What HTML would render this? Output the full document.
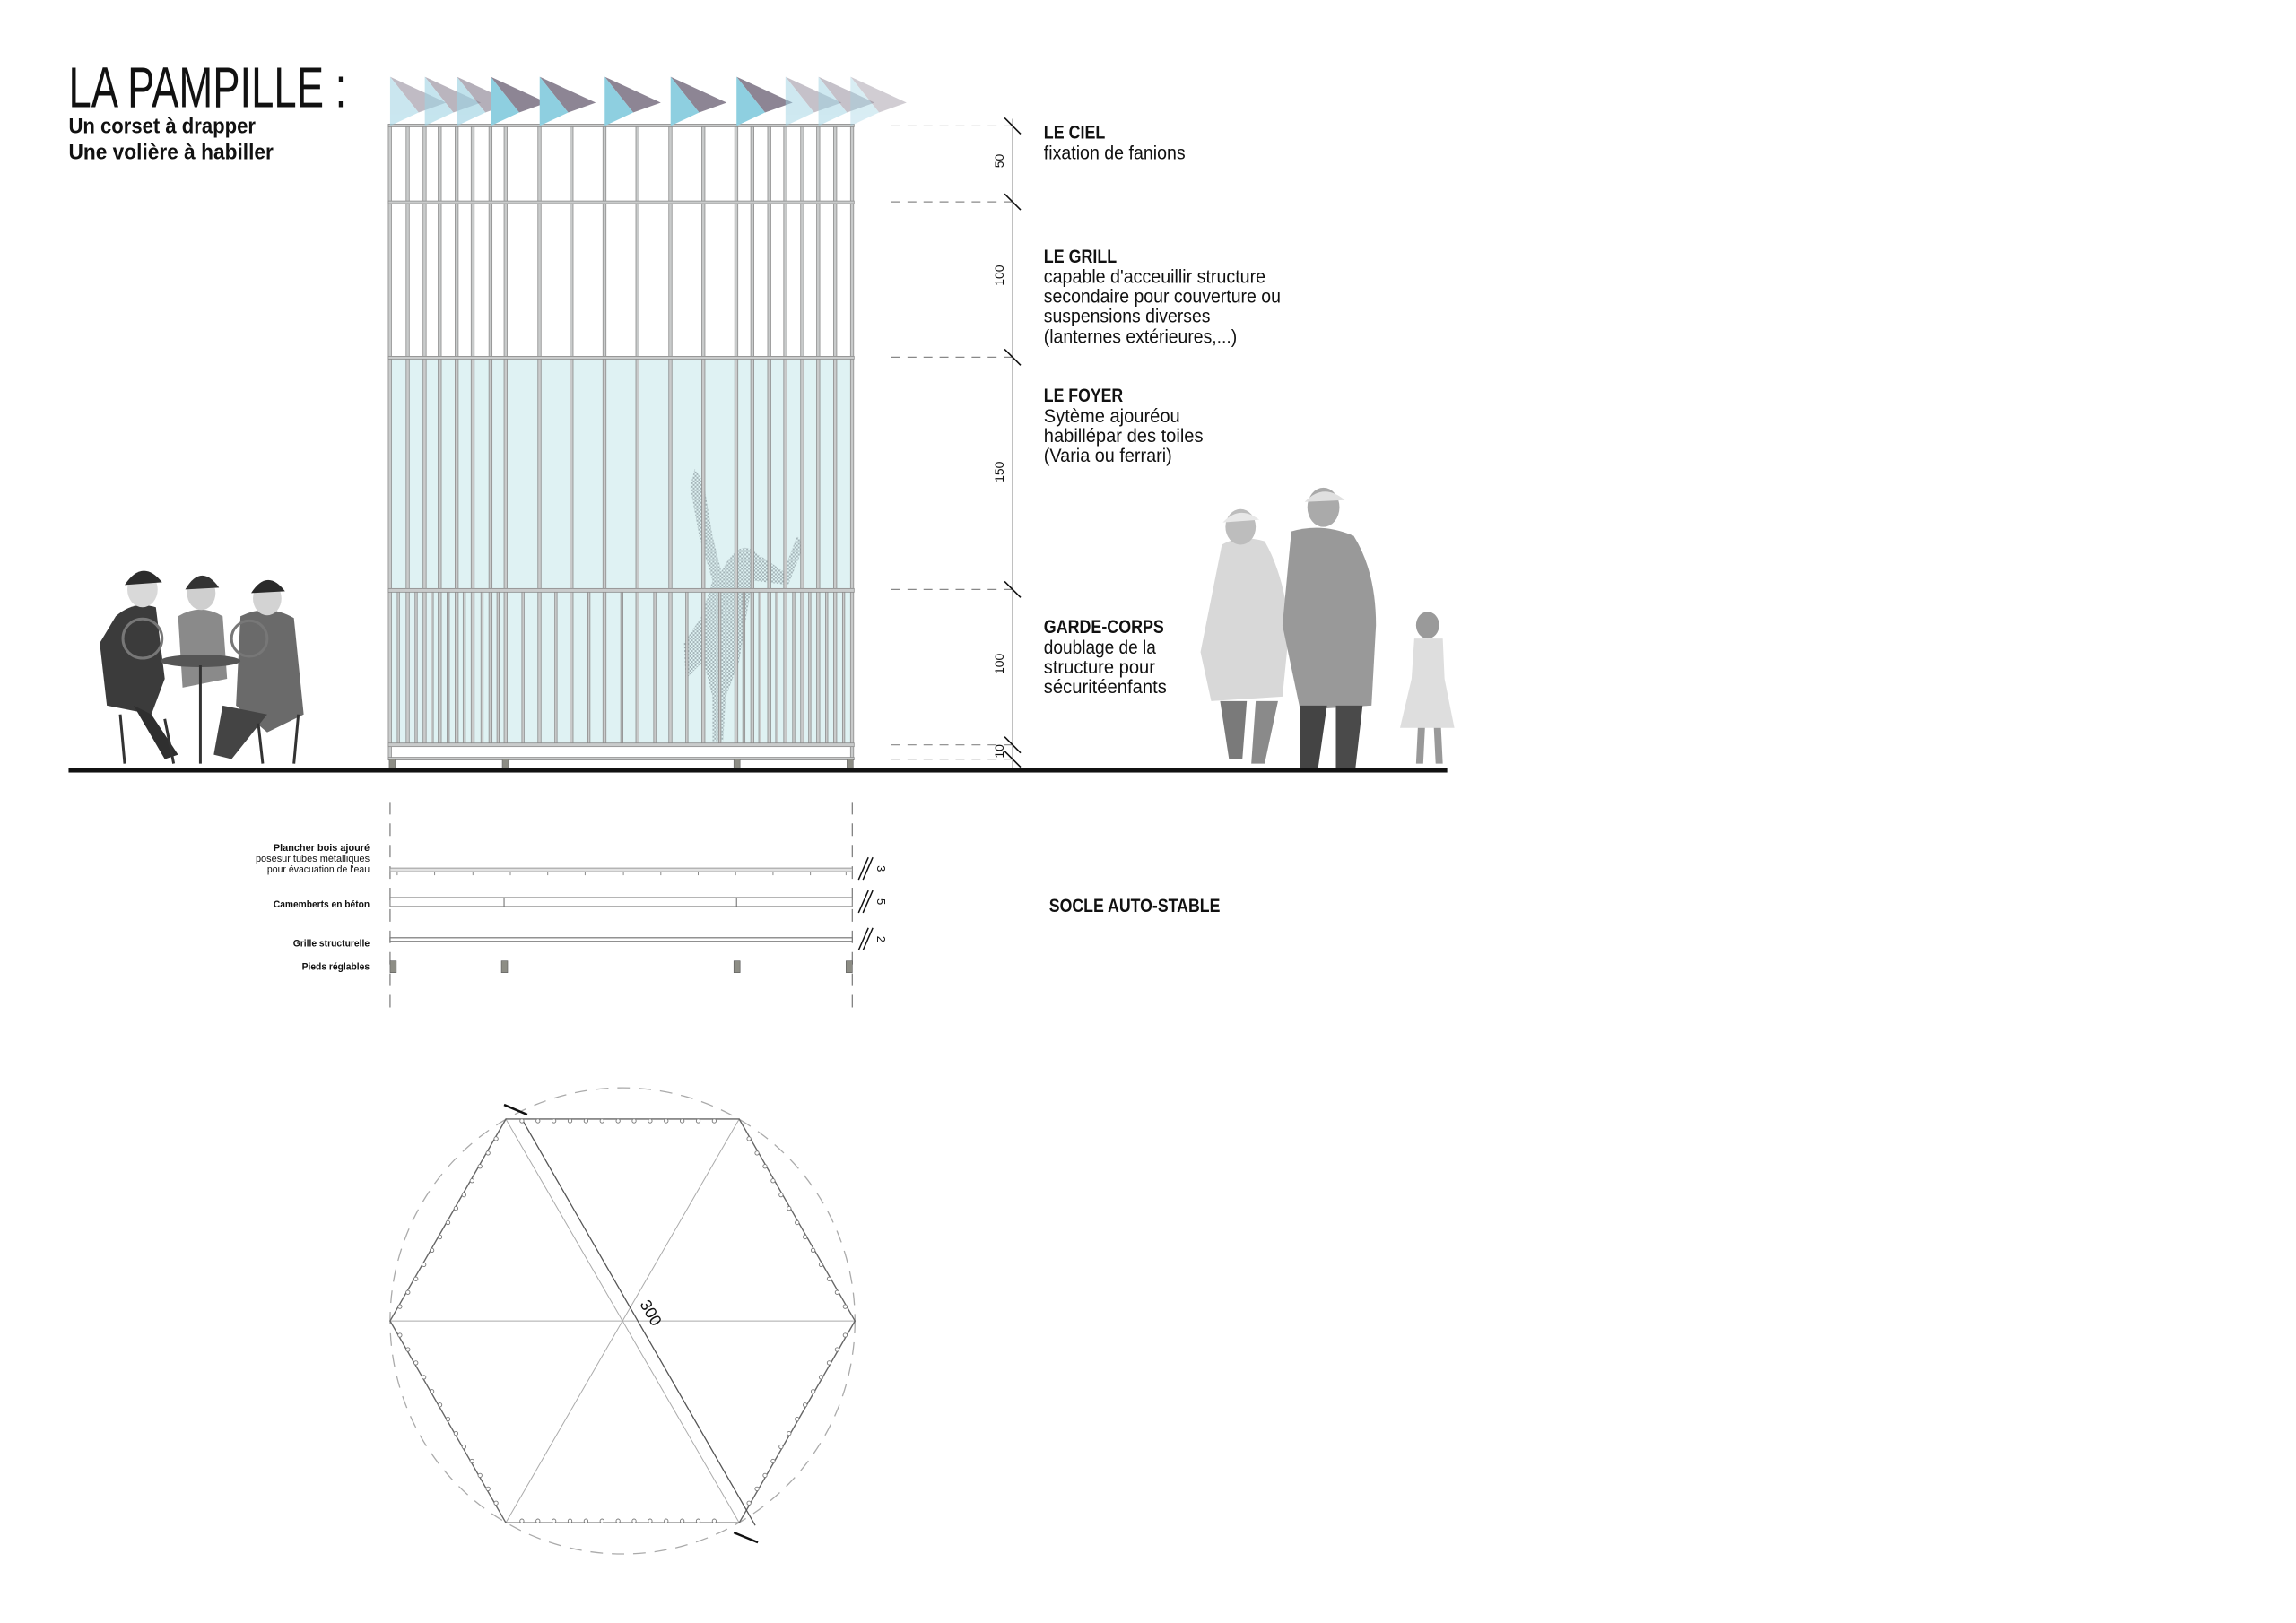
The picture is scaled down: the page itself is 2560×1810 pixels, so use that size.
<!DOCTYPE html>
<html><head><meta charset="utf-8"><style>
html,body{margin:0;padding:0;background:#fff;}
svg{display:block;}
text{font-family:"Liberation Sans",sans-serif;fill:#111;}
</style></head><body>
<svg width="2560" height="1810" viewBox="0 0 2560 1810" xmlns="http://www.w3.org/2000/svg">
<defs>
<pattern id="chk" width="4" height="4" patternUnits="userSpaceOnUse"><rect width="2" height="2" fill="#8a9a9e"/><rect x="2" y="2" width="2" height="2" fill="#8a9a9e"/></pattern>
</defs>
<rect width="2560" height="1810" fill="#fff"/>
<g transform="scale(0.993,0.996)">

<!-- Title -->
<text x="77" y="120" font-size="64" textLength="312" lengthAdjust="spacingAndGlyphs">LA PAMPILLE :</text>
<text x="77" y="149" font-size="24" font-weight="bold" textLength="210" lengthAdjust="spacingAndGlyphs">Un corset à drapper</text>
<text x="77" y="178" font-size="24" font-weight="bold" textLength="230" lengthAdjust="spacingAndGlyphs">Une volière à habiller</text>

<!-- blue fill -->
<rect x="438" y="400" width="519" height="434" fill="#dff2f3"/>

<!-- dancer -->
<path d="M780 525 L790 540 L800 600 L810 640 Q830 600 850 620 L880 640 L895 600 L903 610 L885 655 L845 650 L838 690 L830 740 L815 780 L812 830 L800 830 L800 780 L790 740 L770 760 L768 720 L788 690 L800 650 L785 600 L775 545 Z" fill="url(#chk)" opacity="0.7"/>

<g id="bars" fill="#c9cbcb" stroke="#8c8c8c" stroke-width="0.8">
<rect x="436" y="141" width="3.5" height="709"/>
<rect x="456" y="141" width="3.5" height="693"/>
<rect x="475" y="141" width="3.5" height="693"/>
<rect x="492" y="141" width="3.5" height="693"/>
<rect x="511" y="141" width="3.5" height="693"/>
<rect x="529" y="141" width="3.5" height="693"/>
<rect x="549" y="141" width="3.5" height="693"/>
<rect x="566" y="141" width="3.5" height="693"/>
<rect x="604" y="141" width="3.5" height="693"/>
<rect x="640" y="141" width="3.5" height="693"/>
<rect x="677" y="141" width="3.5" height="693"/>
<rect x="714" y="141" width="3.5" height="693"/>
<rect x="751" y="141" width="3.5" height="693"/>
<rect x="788" y="141" width="3.5" height="693"/>
<rect x="825" y="141" width="3.5" height="693"/>
<rect x="843" y="141" width="3.5" height="693"/>
<rect x="862" y="141" width="3.5" height="693"/>
<rect x="880" y="141" width="3.5" height="693"/>
<rect x="899" y="141" width="3.5" height="693"/>
<rect x="917" y="141" width="3.5" height="693"/>
<rect x="936" y="141" width="3.5" height="693"/>
<rect x="955" y="141" width="3.5" height="709"/>
<rect x="446" y="662" width="2.5" height="172"/>
<rect x="466" y="662" width="2.5" height="172"/>
<rect x="484" y="662" width="2.5" height="172"/>
<rect x="502" y="662" width="2.5" height="172"/>
<rect x="520" y="662" width="2.5" height="172"/>
<rect x="540" y="662" width="2.5" height="172"/>
<rect x="558" y="662" width="2.5" height="172"/>
<rect x="586" y="662" width="2.5" height="172"/>
<rect x="623" y="662" width="2.5" height="172"/>
<rect x="660" y="662" width="2.5" height="172"/>
<rect x="697" y="662" width="2.5" height="172"/>
<rect x="734" y="662" width="2.5" height="172"/>
<rect x="770" y="662" width="2.5" height="172"/>
<rect x="807" y="662" width="2.5" height="172"/>
<rect x="834" y="662" width="2.5" height="172"/>
<rect x="852" y="662" width="2.5" height="172"/>
<rect x="871" y="662" width="2.5" height="172"/>
<rect x="890" y="662" width="2.5" height="172"/>
<rect x="908" y="662" width="2.5" height="172"/>
<rect x="927" y="662" width="2.5" height="172"/>
<rect x="946" y="662" width="2.5" height="172"/>
<rect x="436" y="139" width="523" height="3"/>
<rect x="436" y="225" width="523" height="3"/>
<rect x="436" y="399" width="523" height="3"/>
<rect x="436" y="659" width="523" height="4"/>
<rect x="436" y="832" width="523" height="4"/>
<rect x="436" y="848" width="523" height="3"/>
</g>
<g fill="#8d8d85" stroke="#666" stroke-width="0.6">
<rect x="437" y="850" width="7" height="11"/><rect x="564" y="850" width="7" height="11"/><rect x="824" y="850" width="7" height="11"/><rect x="951" y="850" width="7" height="11"/>
</g>

<!-- flags -->
<g id="flags">
<g opacity="0.55"><polygon points="438,86 501,115 470,126" fill="#8d8594"/><polygon points="438,86 438,141 470,126" fill="#9fd3e3"/></g>
<g opacity="0.6"><polygon points="477,86 540,115 509,126" fill="#8d8594"/><polygon points="477,86 477,141 509,126" fill="#9fd3e3"/></g>
<g opacity="0.65"><polygon points="513,86 576,115 545,126" fill="#8d8594"/><polygon points="513,86 513,141 545,126" fill="#9fd3e3"/></g>
<g><polygon points="551,86 614,115 583,126" fill="#8d8594"/><polygon points="551,86 551,141 583,126" fill="#8ecfe0"/></g>
<g><polygon points="606,86 669,115 638,126" fill="#8d8594"/><polygon points="606,86 606,141 638,126" fill="#8ecfe0"/></g>
<g><polygon points="679,86 742,115 711,126" fill="#8d8594"/><polygon points="679,86 679,141 711,126" fill="#8ecfe0"/></g>
<g><polygon points="753,86 816,115 785,126" fill="#8d8594"/><polygon points="753,86 753,141 785,126" fill="#8ecfe0"/></g>
<g><polygon points="827,86 890,115 859,126" fill="#8d8594"/><polygon points="827,86 827,141 859,126" fill="#8ecfe0"/></g>
<g opacity="0.5"><polygon points="882,86 945,115 914,126" fill="#8d8594"/><polygon points="882,86 882,141 914,126" fill="#9fd3e3"/></g>
<g opacity="0.5"><polygon points="919,86 982,115 951,126" fill="#8d8594"/><polygon points="919,86 919,141 951,126" fill="#9fd3e3"/></g>
<g opacity="0.4"><polygon points="955,86 1018,115 987,126" fill="#8d8594"/><polygon points="955,86 955,141 987,126" fill="#9fd3e3"/></g>
</g>

<!-- dimension chain -->
<g stroke="#888" stroke-width="1.2" stroke-dasharray="10,8" fill="none">
<line x1="1001" y1="141" x2="1137" y2="141"/>
<line x1="1001" y1="226" x2="1137" y2="226"/>
<line x1="1001" y1="400" x2="1137" y2="400"/>
<line x1="1001" y1="660" x2="1137" y2="660"/>
<line x1="1001" y1="834" x2="1137" y2="834"/>
<line x1="1001" y1="850" x2="1137" y2="850"/>
</g>
<line x1="1137" y1="133" x2="1137" y2="862" stroke="#777" stroke-width="1"/>
<g stroke="#111" stroke-width="1.6">
<line x1="1128" y1="132" x2="1146" y2="150"/>
<line x1="1128" y1="217" x2="1146" y2="235"/>
<line x1="1128" y1="391" x2="1146" y2="409"/>
<line x1="1128" y1="651" x2="1146" y2="669"/>
<line x1="1128" y1="825" x2="1146" y2="843"/>
<line x1="1128" y1="841" x2="1146" y2="859"/>
</g>
<g font-size="14" fill="#222">
<text transform="translate(1127,188) rotate(-90)">50</text>
<text transform="translate(1127,320) rotate(-90)">100</text>
<text transform="translate(1127,540) rotate(-90)">150</text>
<text transform="translate(1127,755) rotate(-90)">100</text>
<text transform="translate(1127,849) rotate(-90)">10</text>
</g>

<!-- right texts -->
<g font-size="21">
<text x="1172" y="155" font-weight="bold" textLength="69" lengthAdjust="spacingAndGlyphs">LE CIEL</text>
<text x="1172" y="178" textLength="159" lengthAdjust="spacingAndGlyphs">fixation de fanions</text>
<text x="1172" y="294" font-weight="bold" textLength="82" lengthAdjust="spacingAndGlyphs">LE GRILL</text>
<text x="1172" y="317" textLength="249" lengthAdjust="spacingAndGlyphs">capable d'acceuillir structure</text>
<text x="1172" y="339" textLength="266" lengthAdjust="spacingAndGlyphs">secondaire pour couverture ou</text>
<text x="1172" y="361" textLength="187" lengthAdjust="spacingAndGlyphs">suspensions diverses</text>
<text x="1172" y="384" textLength="217" lengthAdjust="spacingAndGlyphs">(lanternes extérieures,...)</text>
<text x="1172" y="450" font-weight="bold" textLength="89" lengthAdjust="spacingAndGlyphs">LE FOYER</text>
<text x="1172" y="473" textLength="153" lengthAdjust="spacingAndGlyphs">Sytème ajouréou</text>
<text x="1172" y="495" textLength="179" lengthAdjust="spacingAndGlyphs">habillépar des toiles</text>
<text x="1172" y="517" textLength="144" lengthAdjust="spacingAndGlyphs">(Varia ou ferrari)</text>
<text x="1172" y="709" font-weight="bold" textLength="135" lengthAdjust="spacingAndGlyphs">GARDE-CORPS</text>
<text x="1172" y="732" textLength="126" lengthAdjust="spacingAndGlyphs">doublage de la</text>
<text x="1172" y="754" textLength="125" lengthAdjust="spacingAndGlyphs">structure pour</text>
<text x="1172" y="776" textLength="138" lengthAdjust="spacingAndGlyphs">sécuritéenfants</text>
</g>

<!-- women at table -->
<g>
<path d="M130 690 Q150 672 175 680 L185 760 L170 800 L120 790 L112 720 Z" fill="#3b3b3b"/>
<ellipse cx="160" cy="660" rx="17" ry="20" fill="#d9d9d9"/>
<path d="M140 655 Q160 625 182 652 Z" fill="#2c2c2c"/>
<path d="M200 690 Q225 675 250 690 L255 760 L205 770 Z" fill="#8a8a8a"/>
<ellipse cx="226" cy="664" rx="16" ry="19" fill="#cfcfcf"/>
<path d="M208 660 Q226 630 246 658 Z" fill="#333"/>
<path d="M270 690 Q300 675 330 692 L341 800 L300 820 L265 790 Z" fill="#6a6a6a"/>
<ellipse cx="300" cy="670" rx="16" ry="19" fill="#d3d3d3"/>
<path d="M282 664 Q300 636 320 662 Z" fill="#2a2a2a"/>
<ellipse cx="225" cy="740" rx="45" ry="7" fill="#555"/>
<circle cx="160" cy="715" r="22" fill="none" stroke="#777" stroke-width="3"/>
<circle cx="280" cy="715" r="20" fill="none" stroke="#777" stroke-width="3"/>
<path d="M150 790 L170 800 L200 845 L185 850 Z" fill="#2f2f2f"/>
<path d="M250 790 L300 800 L260 850 L240 845 Z" fill="#444"/>
<g stroke="#333" stroke-width="3" fill="none">
<path d="M135 800 L140 855"/><path d="M185 805 L195 855"/><path d="M225 745 L225 855"/><path d="M290 810 L295 855"/><path d="M335 800 L330 855"/>
</g>
</g>

<!-- couple -->
<g>
<path d="M1372 610 Q1392 598 1420 606 Q1440 640 1448 700 L1440 780 L1360 785 L1348 730 Z" fill="#d8d8d8"/>
<ellipse cx="1393" cy="590" rx="17" ry="20" fill="#bdbdbd"/>
<path d="M1373 585 Q1392 565 1414 582 Z" fill="#e8e8e8"/>
<path d="M1370 785 L1400 785 L1395 850 L1380 850 Z" fill="#7a7a7a"/>
<path d="M1410 785 L1435 785 L1420 855 L1405 855 Z" fill="#8a8a8a"/>
<path d="M1450 595 Q1485 585 1520 600 Q1545 640 1545 700 L1540 790 L1460 795 L1440 700 Z" fill="#999"/>
<ellipse cx="1486" cy="568" rx="18" ry="22" fill="#aaa"/>
<path d="M1465 562 Q1486 540 1510 560 Z" fill="#e0e0e0"/>
<path d="M1460 790 L1490 790 L1480 860 L1460 860 Z" fill="#444"/>
<path d="M1500 790 L1530 790 L1522 860 L1500 860 Z" fill="#4a4a4a"/>
</g>
<!-- child -->
<g>
<ellipse cx="1603" cy="700" rx="13" ry="15" fill="#9a9a9a"/>
<path d="M1588 715 L1620 715 L1622 760 L1633 815 L1572 815 L1585 760 Z" fill="#dedede"/>
<path d="M1592 815 L1600 815 L1598 855 L1590 855 Z" fill="#999"/>
<path d="M1610 815 L1618 815 L1620 855 L1612 855 Z" fill="#999"/>
</g>

<!-- ground -->
<rect x="77" y="860" width="1548" height="5" fill="#111"/>

<!-- socle section -->
<g stroke="#777" stroke-width="1.2" stroke-dasharray="14,10">
<line x1="438" y1="898" x2="438" y2="1137"/>
<line x1="957" y1="898" x2="957" y2="1137"/>
</g>
<g font-size="11" text-anchor="end">
<text x="415" y="953" font-weight="bold" textLength="108" lengthAdjust="spacingAndGlyphs">Plancher bois ajouré</text>
<text x="415" y="965" textLength="128" lengthAdjust="spacingAndGlyphs">posésur tubes métalliques</text>
<text x="415" y="977" textLength="115" lengthAdjust="spacingAndGlyphs">pour évacuation de l'eau</text>
<text x="415" y="1016" font-weight="bold" textLength="108" lengthAdjust="spacingAndGlyphs">Camemberts en béton</text>
<text x="415" y="1060" font-weight="bold" textLength="86" lengthAdjust="spacingAndGlyphs">Grille structurelle</text>
<text x="415" y="1086" font-weight="bold" textLength="76" lengthAdjust="spacingAndGlyphs">Pieds réglables</text>
</g>
<rect x="438" y="972" width="519" height="4" fill="#e2e2e2" stroke="#888" stroke-width="0.8"/>
<g stroke="#888" stroke-width="1">
<line x1="446" y1="976" x2="446" y2="980"/><line x1="488" y1="976" x2="488" y2="980"/><line x1="531" y1="976" x2="531" y2="980"/><line x1="573" y1="976" x2="573" y2="980"/><line x1="615" y1="976" x2="615" y2="980"/><line x1="657" y1="976" x2="657" y2="980"/><line x1="700" y1="976" x2="700" y2="980"/><line x1="742" y1="976" x2="742" y2="980"/><line x1="784" y1="976" x2="784" y2="980"/><line x1="826" y1="976" x2="826" y2="980"/><line x1="868" y1="976" x2="868" y2="980"/><line x1="910" y1="976" x2="910" y2="980"/><line x1="950" y1="976" x2="950" y2="980"/>
</g>
<rect x="438" y="1005" width="519" height="10" fill="#fff" stroke="#888" stroke-width="1.2"/>
<line x1="566" y1="1005" x2="566" y2="1015" stroke="#666"/>
<line x1="827" y1="1005" x2="827" y2="1015" stroke="#666"/>
<rect x="438" y="1050" width="519" height="4" fill="#fff" stroke="#777" stroke-width="1.2"/>
<g fill="#8d8d85" stroke="#555" stroke-width="0.6">
<rect x="438" y="1076" width="7" height="13"/><rect x="563" y="1076" width="7" height="13"/><rect x="824" y="1076" width="7" height="13"/><rect x="950" y="1076" width="7" height="13"/>
</g>
<g stroke="#111" stroke-width="1.5">
<line x1="964" y1="985" x2="975" y2="960"/><line x1="969" y1="985" x2="980" y2="960"/>
<line x1="964" y1="1022" x2="975" y2="997"/><line x1="969" y1="1022" x2="980" y2="997"/>
<line x1="964" y1="1064" x2="975" y2="1039"/><line x1="969" y1="1064" x2="980" y2="1039"/>
</g>
<g font-size="13">
<text transform="translate(985,969) rotate(90)">3</text>
<text transform="translate(985,1006) rotate(90)">5</text>
<text transform="translate(985,1048) rotate(90)">2</text>
</g>
<text x="1178" y="1021" font-size="21" font-weight="bold" textLength="192" lengthAdjust="spacingAndGlyphs">SOCLE AUTO-STABLE</text>

<!-- hexagon plan -->
<circle cx="699" cy="1479" r="261" fill="none" stroke="#aaa" stroke-width="1.3" stroke-dasharray="14,10"/>
<g stroke="#aaa" stroke-width="1" fill="none">
<line x1="438" y1="1479" x2="960" y2="1479"/>
<line x1="568" y1="1253" x2="830" y2="1705"/>
<line x1="830" y1="1253" x2="568" y2="1705"/>
</g>
<polygon points="438,1479 568,1253 830,1253 960,1479 830,1705 568,1705" fill="none" stroke="#666" stroke-width="1.4"/>
<line x1="586" y1="1253" x2="848" y2="1708" stroke="#555" stroke-width="1.3"/>
<g stroke="#111" stroke-width="2.5">
<line x1="566" y1="1237" x2="592" y2="1248"/>
<line x1="824" y1="1716" x2="851" y2="1727"/>
</g>
<text transform="translate(718,1460) rotate(60)" font-size="18">300</text>
<g fill="#fff" stroke="#777" stroke-width="0.9" id="dots">
<circle cx="586" cy="1255" r="2.2"/><circle cx="604" cy="1255" r="2.2"/><circle cx="622" cy="1255" r="2.2"/><circle cx="640" cy="1255" r="2.2"/><circle cx="658" cy="1255" r="2.2"/><circle cx="676" cy="1255" r="2.2"/><circle cx="694" cy="1255" r="2.2"/><circle cx="712" cy="1255" r="2.2"/><circle cx="730" cy="1255" r="2.2"/><circle cx="748" cy="1255" r="2.2"/><circle cx="766" cy="1255" r="2.2"/><circle cx="784" cy="1255" r="2.2"/><circle cx="802" cy="1255" r="2.2"/>
<circle cx="586" cy="1703" r="2.2"/><circle cx="604" cy="1703" r="2.2"/><circle cx="622" cy="1703" r="2.2"/><circle cx="640" cy="1703" r="2.2"/><circle cx="658" cy="1703" r="2.2"/><circle cx="676" cy="1703" r="2.2"/><circle cx="694" cy="1703" r="2.2"/><circle cx="712" cy="1703" r="2.2"/><circle cx="730" cy="1703" r="2.2"/><circle cx="748" cy="1703" r="2.2"/><circle cx="766" cy="1703" r="2.2"/><circle cx="784" cy="1703" r="2.2"/><circle cx="802" cy="1703" r="2.2"/>
<circle cx="557" cy="1275" r="2.2"/><circle cx="548" cy="1291" r="2.2"/><circle cx="539" cy="1306" r="2.2"/><circle cx="530" cy="1322" r="2.2"/><circle cx="521" cy="1338" r="2.2"/><circle cx="512" cy="1353" r="2.2"/><circle cx="503" cy="1369" r="2.2"/><circle cx="494" cy="1385" r="2.2"/><circle cx="485" cy="1400" r="2.2"/><circle cx="476" cy="1416" r="2.2"/><circle cx="467" cy="1432" r="2.2"/><circle cx="458" cy="1447" r="2.2"/><circle cx="449" cy="1463" r="2.2"/>
<circle cx="449" cy="1495" r="2.2"/><circle cx="458" cy="1511" r="2.2"/><circle cx="467" cy="1526" r="2.2"/><circle cx="476" cy="1542" r="2.2"/><circle cx="485" cy="1558" r="2.2"/><circle cx="494" cy="1573" r="2.2"/><circle cx="503" cy="1589" r="2.2"/><circle cx="512" cy="1605" r="2.2"/><circle cx="521" cy="1620" r="2.2"/><circle cx="530" cy="1636" r="2.2"/><circle cx="539" cy="1652" r="2.2"/><circle cx="548" cy="1667" r="2.2"/><circle cx="557" cy="1683" r="2.2"/>
<circle cx="841" cy="1275" r="2.2"/><circle cx="850" cy="1291" r="2.2"/><circle cx="859" cy="1306" r="2.2"/><circle cx="868" cy="1322" r="2.2"/><circle cx="877" cy="1338" r="2.2"/><circle cx="886" cy="1353" r="2.2"/><circle cx="895" cy="1369" r="2.2"/><circle cx="904" cy="1385" r="2.2"/><circle cx="913" cy="1400" r="2.2"/><circle cx="922" cy="1416" r="2.2"/><circle cx="931" cy="1432" r="2.2"/><circle cx="940" cy="1447" r="2.2"/><circle cx="949" cy="1463" r="2.2"/>
<circle cx="949" cy="1495" r="2.2"/><circle cx="940" cy="1511" r="2.2"/><circle cx="931" cy="1526" r="2.2"/><circle cx="922" cy="1542" r="2.2"/><circle cx="913" cy="1558" r="2.2"/><circle cx="904" cy="1573" r="2.2"/><circle cx="895" cy="1589" r="2.2"/><circle cx="886" cy="1605" r="2.2"/><circle cx="877" cy="1620" r="2.2"/><circle cx="868" cy="1636" r="2.2"/><circle cx="859" cy="1652" r="2.2"/><circle cx="850" cy="1667" r="2.2"/><circle cx="841" cy="1683" r="2.2"/>
</g>
</g>
</svg>
</body></html>
